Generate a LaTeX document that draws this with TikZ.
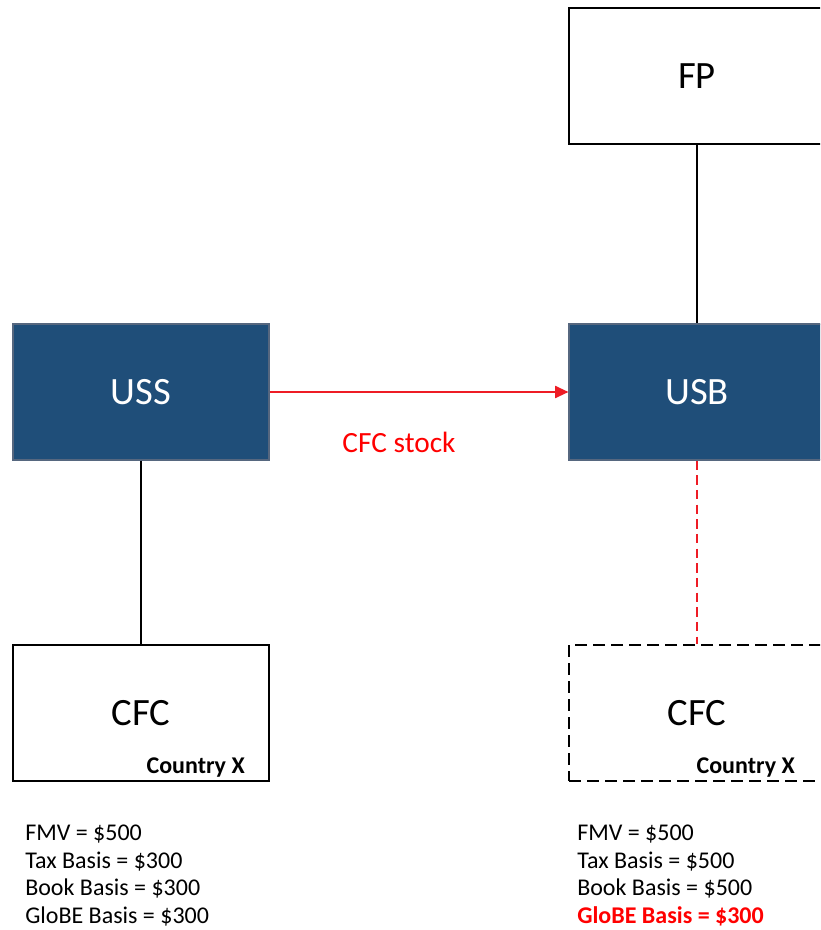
\documentclass[tikz,border=0pt]{standalone}
\usepackage{fontspec}
\setmainfont{Carlito}
\usetikzlibrary{arrows.meta}
\definecolor{entblue}{HTML}{1F4E79}
\definecolor{entedge}{HTML}{56677F}
\definecolor{stockred}{HTML}{EE1C25}
\definecolor{notered}{HTML}{FF0000}
\tikzset{
  entity/.style={draw=black, line width=1.5pt, fill=white, minimum width=192pt,
    minimum height=102pt, inner sep=0pt, font=\fontsize{29}{32}\selectfont},
  usentity/.style={entity, draw=entedge, line width=0.8pt, fill=entblue, text=white},
  country/.style={font=\fontsize{18}{20}\selectfont\bfseries, anchor=base east, inner sep=0pt},
  facts/.style={font=\fontsize{18}{20}\selectfont, anchor=base west, inner sep=0pt},
  link/.style={line width=1.5pt}
}
\begin{document}
\begin{tikzpicture}[x=0.75pt, y=-0.75pt]
    \clip (0,0) rectangle (820,930);
    \fill [white] (0,0) rectangle (820,930);

    % entities
    \node [entity]   (fp)   at (697,76.5) {FP};
    \node [usentity] (uss)  at (141,392)  {USS};
    \node [usentity] (usb)  at (697,392)  {USB};
    \node [entity]   (cfcx) at (141,713)  {\raisebox{-2pt}{CFC}};
    \node [entity, dashed, dash pattern=on 9pt off 4.5pt] (cfcn) at (697,713) {\raisebox{-2pt}{CFC}};
    \node [country] (ctryx) at (245,773) {Country X};
    \node [country] (ctryn) at (795,773) {Country X};

    % links
    \draw [link] (fp) -- (usb);
    \draw [link] (uss) -- (cfcx);
    \draw [link, stockred, dashed, dash pattern=on 7pt off 4pt] (usb) -- (cfcn);
    \draw [line width=1.5pt, stockred, -{Triangle[length=10pt,width=9pt]}] (uss) -- (usb);
    \node [notered, font=\fontsize{22}{24}\selectfont] (stock) at (399,442) {CFC stock};

    % basis figures
    \foreach \txt [count=\i] in {FMV = \$500, Tax Basis = \$300, Book Basis = \$300, GloBE Basis = \$300}{
      \node [facts] (old\i) at (25,{840.5+27.6*(\i-1)}) {\txt};
    }
    \foreach \txt [count=\i] in {FMV = \$500, Tax Basis = \$500, Book Basis = \$500}{
      \node [facts] (new\i) at (577,{840.5+27.6*(\i-1)}) {\txt};
    }
    \node [facts, notered, font=\fontsize{18}{20}\selectfont\bfseries] (new4) at (577,923.3) {GloBE Basis = \$300};
\end{tikzpicture}
\end{document}
